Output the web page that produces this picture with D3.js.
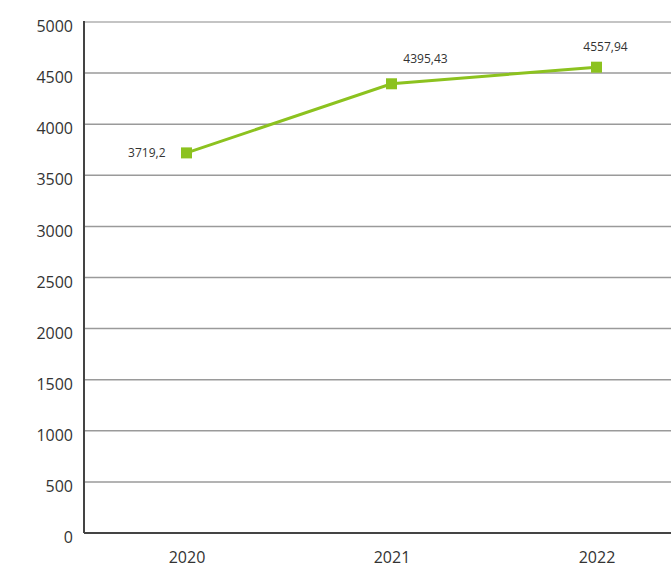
<!DOCTYPE html>
<html><head><meta charset="utf-8">
<script src="https://cdn.jsdelivr.net/npm/d3@7"></script>
<style>body{margin:0;background:#fff}svg{display:block}</style>
</head><body>
<script>
const categories = ["2020", "2021", "2022"];
const values = [3719.2, 4395.43, 4557.94];
const valueLabels = ["3719,2", "4395,43", "4557,94"];
const yTicks = [0, 500, 1000, 1500, 2000, 2500, 3000, 3500, 4000, 4500, 5000];

(function () {
const W = 671, H = 569;
const svg = d3.select("body").append("svg").attr("width", W).attr("height", H);
const mLeft = 84, mRight = 699, mTop = 22, mBottom = 533;
const x = d3.scalePoint().domain(categories).range([mLeft, mRight]).padding(0.5);
const y = d3.scaleLinear().domain([0, 5000]).range([mBottom, mTop]);
const font = "'Open Sans', 'Noto Sans', sans-serif";

// gridlines
svg.append("g").selectAll("line").data(yTicks.filter(d => d > 0)).join("line")
  .attr("x1", mLeft).attr("x2", mRight)
  .attr("y1", d => y(d)).attr("y2", d => y(d))
  .attr("stroke", d => d === 5000 ? "#b0b0b0" : "#9a9a9a").attr("stroke-width", 1.5);

// y axis
const ya = svg.append("g").attr("transform", `translate(${mLeft},0)`)
  .call(d3.axisLeft(y).tickValues(yTicks).tickSize(0).tickPadding(11).tickFormat(d3.format("d")));
ya.select(".domain").remove();
ya.selectAll("text").attr("font-family", font).attr("font-size", 16).attr("fill", "#333")
  .attr("dy", "0.6em");

// x axis
const xa = svg.append("g").attr("transform", `translate(0,${mBottom})`)
  .call(d3.axisBottom(x).tickSize(0).tickPadding(19));
xa.select(".domain").remove();
xa.selectAll("text").attr("font-family", font).attr("font-size", 16).attr("fill", "#333");

// axis lines
svg.append("line").attr("x1", mLeft).attr("x2", mLeft).attr("y1", y(5000) - 1).attr("y2", mBottom)
  .attr("stroke", "#444").attr("stroke-width", 2);
svg.append("line").attr("x1", mLeft).attr("x2", mRight).attr("y1", mBottom).attr("y2", mBottom)
  .attr("stroke", "#444").attr("stroke-width", 2);

// line
const data = categories.map((c, i) => ({c, v: values[i], l: valueLabels[i]}));
svg.append("path").datum(data)
  .attr("d", d3.line().x(d => x(d.c)).y(d => y(d.v)))
  .attr("fill", "none").attr("stroke", "#8cc21f").attr("stroke-width", 3);
svg.append("g").selectAll("rect").data(data).join("rect")
  .attr("x", d => x(d.c) - 5.5).attr("y", d => y(d.v) - 5.5)
  .attr("width", 11).attr("height", 11).attr("fill", "#8cc21f");

// labels
const lbl = svg.append("g").attr("font-family", font).attr("font-size", 12).attr("fill", "#333");
lbl.append("text").attr("x", x(categories[0]) - 21).attr("y", y(values[0]) + 4)
  .attr("text-anchor", "end").text(valueLabels[0]);
lbl.append("text").attr("x", x(categories[1]) + 34).attr("y", y(values[1]) - 21)
  .attr("text-anchor", "middle").text(valueLabels[1]);
lbl.append("text").attr("x", x(categories[2]) + 9).attr("y", y(values[2]) - 16)
  .attr("text-anchor", "middle").text(valueLabels[2]);
})();
</script>
</body></html>
